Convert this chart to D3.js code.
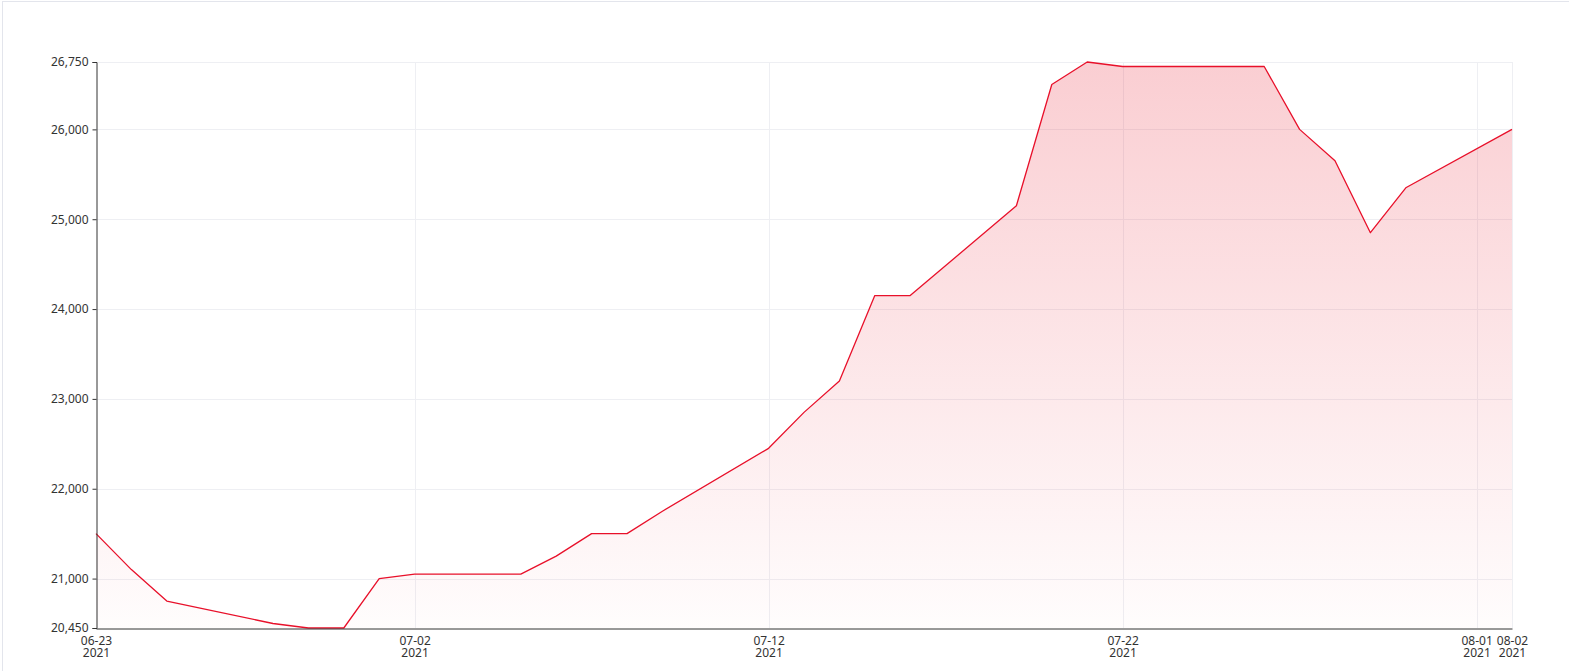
<!DOCTYPE html>
<html>
<head>
<meta charset="utf-8">
<script src="https://cdn.jsdelivr.net/npm/d3@7/dist/d3.min.js"></script>
<style>
  html, body { margin: 0; padding: 0; background: #fff; }
  svg { display: block; font-family: "Noto Sans", sans-serif; }
</style>
</head>
<body>
<div id="chart"></div>
<script>
const width = 1569;
const height = 671;

// trading days (weekends skipped) and prices
const dates = [
  "2021-06-23", "2021-06-24", "2021-06-25", "2021-06-28", "2021-06-29", "2021-06-30",
  "2021-07-01", "2021-07-02", "2021-07-05", "2021-07-06", "2021-07-07", "2021-07-08",
  "2021-07-09", "2021-07-12", "2021-07-13", "2021-07-14", "2021-07-15", "2021-07-16",
  "2021-07-19", "2021-07-20", "2021-07-21", "2021-07-22", "2021-07-23", "2021-07-26",
  "2021-07-27", "2021-07-28", "2021-07-29", "2021-07-30", "2021-08-02"
];
const prices = [
  21500, 21100, 20750, 20500, 20450, 20450,
  21000, 21050, 21050, 21250, 21500, 21500,
  21750, 22450, 22850, 23200, 24150, 24150,
  25150, 26500, 26750, 26700, 26700, 26700,
  26000, 25650, 24850, 25350, 26000
];
const xTicks = ["2021-06-23", "2021-07-02", "2021-07-12", "2021-07-22", "2021-08-01", "2021-08-02"];
const yTicks = [20450, 21000, 22000, 23000, 24000, 25000, 26000, 26750];

const parse = d3.timeParse("%Y-%m-%d");
const data = dates.map((d, i) => ({date: parse(d), value: prices[i]}));

const plotLeft = 96, plotRight = 1512, plotTop = 62, plotBottom = 628;

const x = d3.scaleTime()
  .domain([parse("2021-06-23"), parse("2021-08-02")])
  .range([plotLeft, plotRight]);

const y = d3.scaleLinear()
  .domain([20450, 26750])
  .range([plotBottom, plotTop]);

const svg = d3.select('#chart')
  .append('svg')
  .attr('width', width)
  .attr('height', height);

// outer frame
svg.append('rect')
  .attr('x', 2.5).attr('y', 1.5)
  .attr('width', width + 10).attr('height', height + 10)
  .attr('fill', 'none')
  .attr('stroke', '#e3e5ec');

const defs = svg.append('defs');
const grad = defs.append('linearGradient')
  .attr('id', 'areaFill')
  .attr('gradientUnits', 'userSpaceOnUse')
  .attr('x1', 0).attr('x2', 0)
  .attr('y1', y(d3.max(prices))).attr('y2', plotBottom);
grad.append('stop').attr('offset', '0%').attr('stop-color', 'rgb(232,20,40)').attr('stop-opacity', 0.21);
grad.append('stop').attr('offset', '100%').attr('stop-color', 'rgb(232,20,40)').attr('stop-opacity', 0.01);

// grid lines
svg.append('g')
  .selectAll('line')
  .data(yTicks.filter(v => v !== 20450))
  .enter()
  .append('line')
  .attr('x1', plotLeft).attr('x2', plotRight)
  .attr('y1', d => Math.round(y(d)) + 0.5).attr('y2', d => Math.round(y(d)) + 0.5)
  .attr('stroke', '#eeeff3');

svg.append('g')
  .selectAll('line')
  .data(xTicks.slice(1))
  .enter()
  .append('line')
  .attr('x1', d => Math.round(x(parse(d))) + 0.5).attr('x2', d => Math.round(x(parse(d))) + 0.5)
  .attr('y1', plotTop).attr('y2', plotBottom)
  .attr('stroke', '#eeeff3');

const area = d3.area()
  .x(d => x(d.date))
  .y0(plotBottom)
  .y1(d => y(d.value));

const line = d3.line()
  .x(d => x(d.date))
  .y(d => y(d.value));

svg.append('path')
  .datum(data)
  .attr('d', area)
  .attr('fill', 'url(#areaFill)');

svg.append('path')
  .datum(data)
  .attr('d', line)
  .attr('fill', 'none')
  .attr('stroke', '#e8102a')
  .attr('stroke-width', 1.3)
  .attr('stroke-linejoin', 'round');

// y axis
const yAxis = svg.append('g')
  .attr('transform', `translate(${plotLeft + 0.5},0)`)
  .call(d3.axisLeft(y)
    .tickValues(yTicks)
    .tickSize(4)
    .tickPadding(4)
    .tickFormat(d3.format(',')));
yAxis.select('.domain').attr('stroke', '#333');
yAxis.selectAll('.tick line').attr('stroke', '#333');
yAxis.selectAll('text')
  .attr('fill', '#333')
  .style('font-size', '12px')
  .style('font-family', '"Noto Sans", sans-serif');

// x axis
const xAxis = svg.append('g')
  .attr('transform', `translate(0,${plotBottom + 0.5})`)
  .call(d3.axisBottom(x)
    .tickValues(xTicks.map(parse))
    .tickSize(0)
    .tickFormat(d3.timeFormat('%m-%d')));
xAxis.select('.domain').attr('stroke', '#333');

xAxis.selectAll('.tick text')
  .attr('y', 16)
  .attr('dy', 0)
  .attr('fill', '#333')
  .style('font-size', '12px')
  .style('font-family', '"Noto Sans", sans-serif');

// second line of each tick label: the year
xAxis.selectAll('.tick')
  .append('text')
  .attr('y', 28.5)
  .attr('fill', '#333')
  .attr('text-anchor', 'middle')
  .style('font-size', '12px')
  .style('font-family', '"Noto Sans", sans-serif')
  .text(d => d3.timeFormat('%Y')(d));
</script>
</body>
</html>
